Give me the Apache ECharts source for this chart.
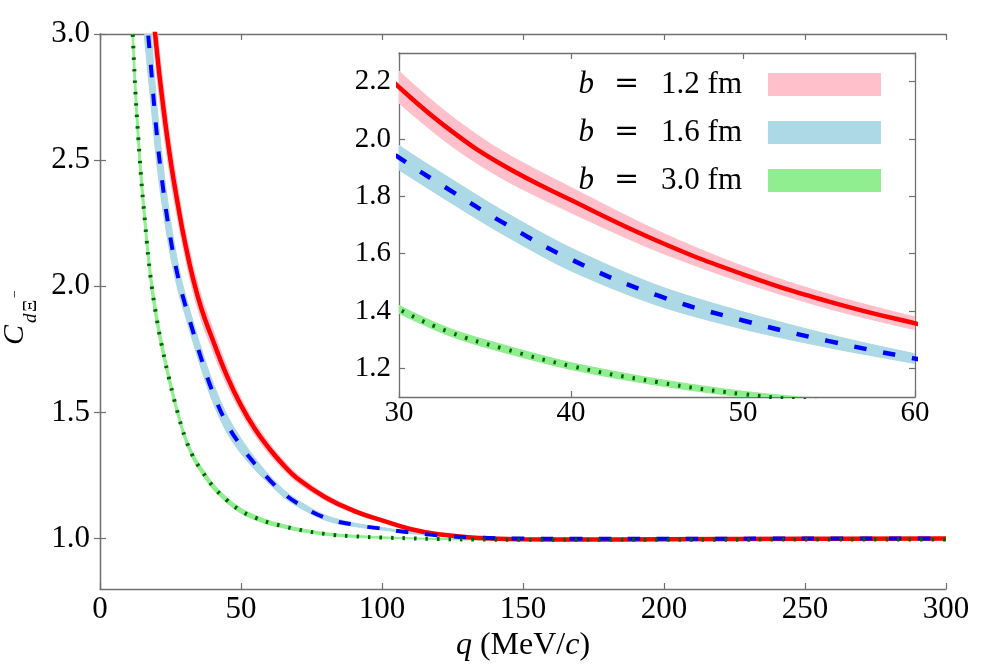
<!DOCTYPE html>
<html><head><meta charset="utf-8">
<script src="https://cdn.jsdelivr.net/npm/echarts@6/dist/echarts.min.js"></script>
<style>html,body{margin:0;padding:0;background:#fff}#c{width:996px;height:664px}</style>
</head><body><div id="c"></div>
<script>
// q (MeV/c) sample positions
const q = [10, 12, 14, 16, 18, 20, 22, 25, 28, 30, 33, 36, 40, 45, 50, 55, 60, 65, 70, 80, 90, 100, 110, 120, 135, 150, 170, 200, 250, 300];
// b = 1.2 fm
const red   = [5.5, 4.7, 4.05, 3.6, 3.2, 2.95, 2.75, 2.50, 2.30, 2.181, 2.03, 1.91, 1.787, 1.645, 1.528, 1.433, 1.357, 1.292, 1.238, 1.163, 1.11, 1.072, 1.038, 1.017, 1.002, 0.997, 0.996, 0.997, 0.999, 1.0];
const redLo = [5.25, 4.5, 3.89, 3.47, 3.09, 2.85, 2.66, 2.425, 2.236, 2.125, 1.978, 1.862, 1.743, 1.609, 1.5, 1.408, 1.335, 1.273, 1.222, 1.151, 1.101, 1.066, 1.034, 1.014, 1.0, 0.995, 0.994, 0.995, 0.997, 0.998];
const redHi = [5.75, 4.9, 4.21, 3.73, 3.31, 3.05, 2.84, 2.575, 2.364, 2.237, 2.082, 1.958, 1.831, 1.681, 1.556, 1.458, 1.379, 1.311, 1.254, 1.175, 1.119, 1.078, 1.042, 1.02, 1.004, 0.999, 0.998, 0.999, 1.001, 1.002];
// b = 1.6 fm
const blue   = [4.6, 4.0, 3.5, 3.15, 2.88, 2.62, 2.42, 2.19, 2.02, 1.935, 1.82, 1.71, 1.58, 1.455, 1.367, 1.295, 1.234, 1.18, 1.14, 1.082, 1.055, 1.039, 1.024, 1.013, 1.003, 1.0, 0.999, 0.999, 1.0, 1.0];
const blueLo = [4.25, 3.7, 3.26, 2.96, 2.73, 2.5, 2.325, 2.12, 1.968, 1.892, 1.778, 1.669, 1.54, 1.42, 1.337, 1.272, 1.217, 1.165, 1.127, 1.072, 1.048, 1.034, 1.02, 1.01, 1.001, 0.998, 0.997, 0.997, 0.998, 0.998];
const blueHi = [4.95, 4.3, 3.74, 3.34, 3.03, 2.74, 2.515, 2.26, 2.072, 1.978, 1.862, 1.751, 1.62, 1.49, 1.397, 1.318, 1.251, 1.195, 1.153, 1.092, 1.062, 1.044, 1.028, 1.016, 1.005, 1.002, 1.001, 1.001, 1.002, 1.002];
// b = 3.0 fm
const green   = [3.5, 2.9, 2.52, 2.25, 2.03, 1.88, 1.76, 1.61, 1.48, 1.406, 1.325, 1.27, 1.208, 1.152, 1.11, 1.083, 1.063, 1.049, 1.036, 1.018, 1.009, 1.004, 1.001, 0.998, 0.996, 0.995, 0.995, 0.995, 0.996, 0.996];
const greenLo = [3.41, 2.83, 2.465, 2.205, 1.994, 1.85, 1.735, 1.59, 1.464, 1.392, 1.312, 1.257, 1.196, 1.141, 1.1, 1.074, 1.055, 1.042, 1.03, 1.013, 1.005, 1.001, 0.999, 0.996, 0.994, 0.993, 0.993, 0.993, 0.994, 0.994];
const greenHi = [3.59, 2.97, 2.575, 2.295, 2.066, 1.91, 1.785, 1.63, 1.496, 1.42, 1.338, 1.283, 1.22, 1.163, 1.12, 1.092, 1.071, 1.056, 1.042, 1.023, 1.013, 1.007, 1.003, 1.0, 0.998, 0.997, 0.997, 0.997, 0.998, 0.998];

const mainYTicks = [1.0, 1.5, 2.0, 2.5, 3.0];
const insetYTicks = [1.2, 1.4, 1.6, 1.8, 2.0, 2.2];
const legendNames = ['b12', 'b16', 'b30'];
const legendValues = ['1.2 fm', '1.6 fm', '3.0 fm'];

const FONT = '"Liberation Serif", "DejaVu Serif", serif';
const AX = '#707070';
const SM = 0.45;

function pairs(ys) { return q.map((x, i) => [x, ys[i]]); }

// band between lo and hi drawn as one polygon through the axis scales
function band(name, lo, hi, color, xi, yi) {
  return {
    type: 'custom', name: name, xAxisIndex: xi, yAxisIndex: yi, clip: true, silent: true, z: 1,
    itemStyle: { color: color },
    data: [[q[0], lo[0]]],
    renderItem: function (params, api) {
      if (params.dataIndex !== 0) return null;
      const up = q.map((x, i) => api.coord([x, hi[i]]));
      const dn = q.map((x, i) => api.coord([x, lo[i]])).reverse();
      return { type: 'polygon', shape: { points: up.concat(dn), smooth: 0.3 }, style: { fill: color, stroke: color, lineWidth: 1 } };
    }
  };
}
function curve(ys, color, width, type, xi, yi, z) {
  return { type: 'line', xAxisIndex: xi, yAxisIndex: yi, data: pairs(ys), symbol: 'none', smooth: SM,
    lineStyle: { color: color, width: width, type: type, cap: 'butt' }, itemStyle: { color: color }, z: z, silent: true };
}

const PINK = '#ffc0cb', LBLUE = '#add8e6', LGREEN = '#90ee90';
const series = [];
// main plot
series.push(band('m12', redLo, redHi, PINK, 0, 0));
series.push(band('m16', blueLo, blueHi, LBLUE, 0, 0));
series.push(band('m30', greenLo, greenHi, LGREEN, 0, 0));
series.push(curve(red, '#ff0000', 4.5, 'solid', 0, 0, 3));
series.push(curve(blue, '#0000ff', 4, [12.5, 16.5], 0, 0, 4));
series.push(curve(green, '#006400', 4, [2.5, 9], 0, 0, 5));
// inset
series.push(band('b12', redLo, redHi, PINK, 2, 2));
series.push(band('b16', blueLo, blueHi, LBLUE, 2, 2));
series.push(band('b30', greenLo, greenHi, LGREEN, 2, 2));
series.push(curve(red, '#ff0000', 4.5, 'solid', 2, 2, 3));
series.push(curve(blue, '#0000ff', 4.5, [12.5, 17], 2, 2, 4));
series.push(curve(green, '#006400', 4, [2.5, 9], 2, 2, 5));

const tick = { show: true, inside: true, length: 6, lineStyle: { color: AX, width: 1.2 } };
const line = { show: true, lineStyle: { color: AX, width: 1.3 } };
const noSplit = { show: false };

function xAx(grid, pos, min, max, interval, labels, fs, margin) {
  return { type: 'value', gridIndex: grid, position: pos, min: min, max: max, interval: interval,
    axisLine: line, axisTick: tick, splitLine: noSplit,
    axisLabel: { show: labels, color: '#000', fontFamily: FONT, fontSize: fs, margin: margin } };
}
function yAx(grid, pos, min, max, ticks, labels, fs, margin) {
  return { type: 'value', gridIndex: grid, position: pos, min: min, max: max,
    axisLine: line, splitLine: noSplit,
    axisTick: Object.assign({}, tick, { customValues: ticks }),
    axisLabel: { show: labels, customValues: ticks, color: '#000', fontFamily: FONT, fontSize: fs, margin: margin,
      formatter: v => v.toFixed(1) } };
}

const xAxes = [
  xAx(0, 'bottom', 0, 300, 50, true, 31, 5),
  xAx(0, 'top', 0, 300, 50, false, 31, 5),
  xAx(1, 'bottom', 30, 60, 10, true, 29, 2),
  xAx(1, 'top', 30, 60, 10, false, 29, 2)
];
xAxes[0].name = '{i|q} (MeV/{i|c})';
xAxes[0].nameLocation = 'middle';
xAxes[0].nameGap = 40;
xAxes[0].nameTextStyle = { color: '#000', fontFamily: FONT, fontSize: 32,
  rich: { i: { fontStyle: 'italic', fontFamily: FONT, fontSize: 32, color: '#000' } } };

const yAxes = [
  yAx(0, 'left', 0.8, 3.0, mainYTicks, true, 31, 10),
  yAx(0, 'right', 0.8, 3.0, mainYTicks, false, 31, 10),
  yAx(1, 'left', 1.1, 2.3, insetYTicks, true, 29, 8),
  yAx(1, 'right', 1.1, 2.3, insetYTicks, false, 29, 8)
];

const option = {
  animation: false,
  backgroundColor: '#fff',
  grid: [
    { left: 100, right: 50, top: 34, bottom: 75, outerBoundsMode: 'none', containLabel: false },
    { left: 399, right: 81, top: 53, bottom: 267, outerBoundsMode: 'none', containLabel: false }
  ],
  xAxis: xAxes,
  yAxis: yAxes,
  legend: {
    data: legendNames,
    orient: 'vertical', right: 110, top: 64, align: 'right',
    icon: 'rect', itemWidth: 113, itemHeight: 23, itemGap: 17, selectedMode: false,
    formatter: n => '{i|b}{e|=}{v|' + legendValues[legendNames.indexOf(n)] + '}{g| }',
    textStyle: { color: '#000', fontFamily: FONT, fontSize: 31,
      rich: {
        i: { fontStyle: 'italic', fontFamily: FONT, fontSize: 31, color: '#000', padding: [0, 20, 0, 0] },
        e: { fontFamily: '"DejaVu Serif", serif', fontSize: 30, color: '#000', padding: [0, 22, 0, 0] },
        v: { fontFamily: FONT, fontSize: 31, color: '#000' },
        g: { width: 21 }
      } }
  },
  graphic: [{
    type: 'group', x: 25, y: 345, rotation: Math.PI / 2, silent: true,
    children: [
      { type: 'text', x: 0, y: -10, style: { text: 'C', font: 'italic 30px ' + FONT, fill: '#000', textVerticalAlign: 'middle' } },
      { type: 'text', x: 22, y: 6, style: { text: 'd', font: 'italic 19px ' + FONT, fill: '#000', textVerticalAlign: 'middle' } },
      { type: 'text', x: 33, y: 6, style: { text: 'Ξ', font: '19px ' + FONT, fill: '#000', textVerticalAlign: 'middle' } },
      { type: 'text', x: 47, y: -10, style: { text: '−', font: '14px ' + FONT, fill: '#000', textVerticalAlign: 'middle' } }
    ]
  }],
  series: series
};
const chart = echarts.init(document.getElementById('c'), null, { renderer: 'canvas' });
chart.setOption(option);
</script></body></html>
